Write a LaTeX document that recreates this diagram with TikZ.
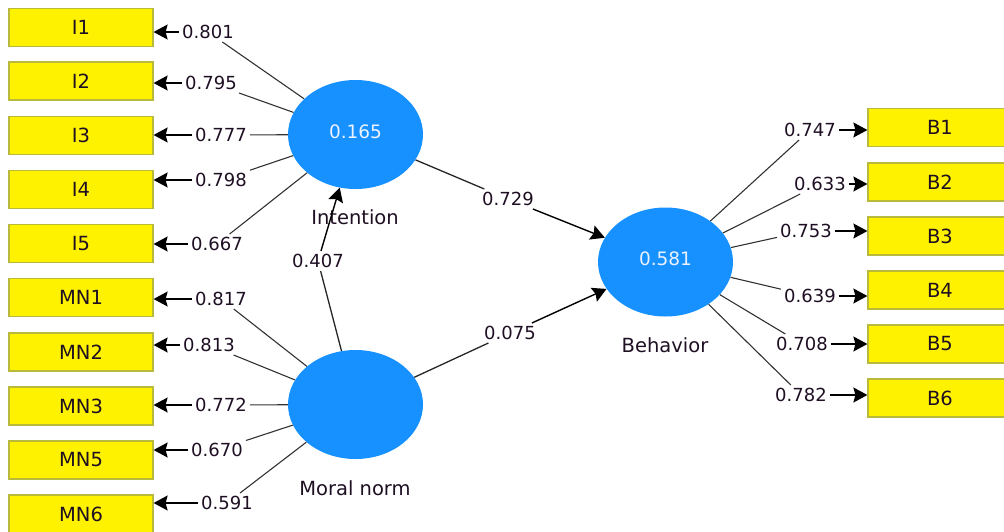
\documentclass[tikz,border=0pt]{standalone}
\usepackage{fontspec}
\setmainfont{DejaVu Sans}
\usetikzlibrary{shapes.geometric,arrows.meta}
\definecolor{lvblue}{RGB}{22,145,255}
\definecolor{boxborder}{RGB}{185,185,60}
\definecolor{linegray}{RGB}{50,50,50}
\definecolor{lvtext}{RGB}{235,242,255}
\definecolor{txt}{RGB}{30,15,35}
\begin{document}
\begin{tikzpicture}[x=1pt,y=-1pt,
  latent/.style={ellipse, fill=lvblue, minimum width=135pt, minimum height=109pt, inner sep=0pt, text=lvtext, font=\fontsize{18.5}{20}\selectfont},
  indbox/.style={rectangle, fill=yellow, draw=boxborder, line width=1.2pt, minimum width=144pt, minimum height=38pt, inner sep=0pt, text=txt, font=\fontsize{19.5}{22}\selectfont},
  coef/.style={inner sep=3pt, text=txt, font=\fontsize{18}{20}\selectfont},
  lvname/.style={text=txt, font=\fontsize{19.5}{22}\selectfont},
  loadline/.style={draw=linegray, line width=1.1pt},
  pathline/.style={draw=black!85, line width=1.3pt},
  arrowln/.style={-{Stealth[length=14pt,width=15pt,inset=2pt]}, line width=1.4pt, draw=black},
]
\useasboundingbox (0,0) rectangle (1004,531);
\clip (0,0) rectangle (1004,531);

% latent variables
\node[latent] (int) at (355.5,134.5) {\raisebox{6pt}{0.165}};
\node[latent] (mn)  at (355.5,404.5) {};
\node[latent] (beh) at (665.5,262) {\raisebox{7pt}{0.581}};
\node[lvname] (intname) at (355,217) {Intention};
\node[lvname] (mnname)  at (355,488) {Moral norm};
\node[lvname] (behname) at (665,345) {Behavior};

% Intention indicators
\foreach \n/\y/\v/\lx/\ly in {I1/27.5/0.801/208/32, I2/81/0.795/211/83, I3/135.5/0.777/221/135, I4/189.5/0.798/221/180, I5/243.5/0.667/217/244}{
  \node[indbox] (\n) at (81,\y) {\n};
  \node[coef] (l-\n) at (\lx,\ly) {\v};
  \draw[loadline] (int) -- (l-\n);
  \draw[arrowln] (l-\n.west) -- (l-\n.west -| \n.east);
}

% Moral norm indicators
\foreach \n/\y/\v/\lx/\ly in {MN1/297.5/0.817/221/299, MN2/352/0.813/209/345, MN3/406/0.772/221/405, MN5/460/0.670/217/450, MN6/514/0.591/227/503}{
  \node[indbox] (\n) at (81,\y) {\n};
  \node[coef] (l-\n) at (\lx,\ly) {\v};
  \draw[loadline] (mn) -- (l-\n);
  \draw[arrowln] (l-\n.west) -- (l-\n.west -| \n.east);
}

% Behavior indicators
\foreach \n/\y/\v/\lx/\ly in {B1/127.5/0.747/810/130, B2/182/0.633/820/184, B3/236/0.753/806/231, B4/290/0.639/810/296, B5/344/0.708/802/344, B6/398/0.782/801/395}{
  \node[indbox] (\n) at (940,\y) {\n};
  \node[coef] (l-\n) at (\lx,\ly) {\v};
  \draw[loadline] (beh) -- (l-\n);
  \draw[arrowln] (l-\n.east) -- (l-\n.east -| \n.west);
}

% structural paths
\node[coef] (c407) at (318,261) {0.407};
\node[coef] (c729) at (508,199) {0.729};
\node[coef] (c075) at (510,333) {0.075};
\draw[pathline] (mn) -- (c407);
\draw[arrowln] (c407) -- (int);
\draw[pathline] (int) -- (c729);
\draw[arrowln] (c729) -- (beh);
\draw[pathline] (mn) -- (c075);
\draw[arrowln] (c075) -- (beh);
\end{tikzpicture}
\end{document}
